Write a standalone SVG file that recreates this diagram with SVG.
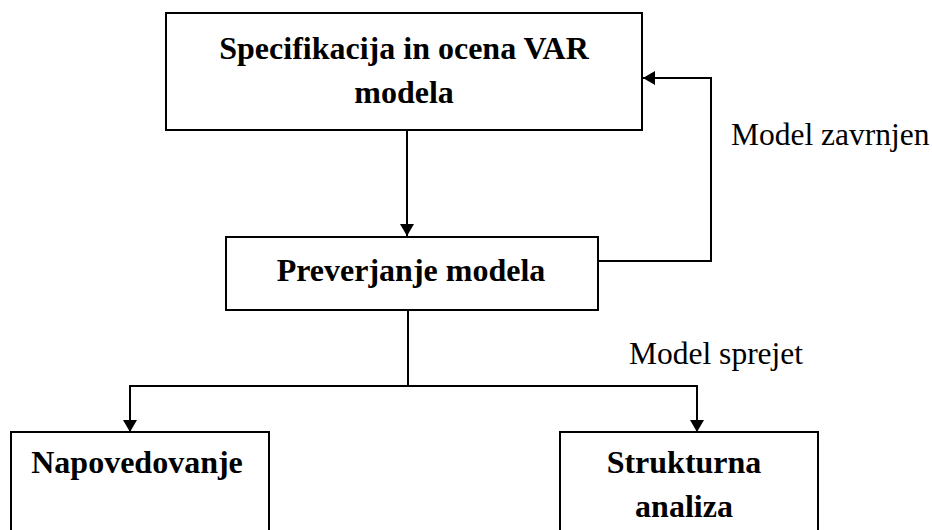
<svg xmlns="http://www.w3.org/2000/svg" width="932" height="530" viewBox="0 0 932 530">
<style>
.box{fill:#fff;stroke:#000;stroke-width:2}
.b{font-family:"Liberation Serif","Times New Roman",serif;font-weight:bold;font-size:32px;fill:#000;text-anchor:middle}
.r{font-family:"Liberation Serif","Times New Roman",serif;font-size:31.5px;fill:#000}
.ln{fill:none;stroke:#000;stroke-width:2}
</style>
<defs>
<marker id="ah" viewBox="0 0 12 14" refX="12" refY="7" markerWidth="12" markerHeight="14" markerUnits="userSpaceOnUse" orient="auto">
<path d="M0,0 L12,7 L0,14 Z" fill="#000"/>
</marker>
</defs>
<rect width="932" height="530" fill="#fff"/>
<g id="connectors">
<line class="ln" x1="407" y1="130" x2="407" y2="236" marker-end="url(#ah)"/>
<polyline class="ln" points="598,261 711,261 711,78 643,78" marker-end="url(#ah)"/>
<line class="ln" x1="408" y1="310" x2="408" y2="386"/>
<polyline class="ln" points="697,386 130,386 130,432" marker-end="url(#ah)"/>
<line class="ln" x1="697" y1="385" x2="697" y2="432" marker-end="url(#ah)"/>
<text class="r" x="731" y="145">Model zavrnjen</text>
<text class="r" x="629" y="364">Model sprejet</text>
</g>
<g id="spec">
<rect class="box" x="166" y="13" width="476" height="117"/>
<text class="b" x="404" y="59">Specifikacija in ocena VAR</text>
<text class="b" x="404" y="103">modela</text>
</g>
<g id="preverjanje">
<rect class="box" x="226" y="237" width="372" height="73"/>
<text class="b" x="411" y="281">Preverjanje modela</text>
</g>
<g id="napovedovanje">
<rect class="box" x="11" y="432" width="258" height="110"/>
<text class="b" x="137" y="473">Napovedovanje</text>
</g>
<g id="strukturna">
<rect class="box" x="560" y="432" width="258" height="110"/>
<text class="b" x="684" y="473">Strukturna</text>
<text class="b" x="684" y="517">analiza</text>
</g>
</svg>
